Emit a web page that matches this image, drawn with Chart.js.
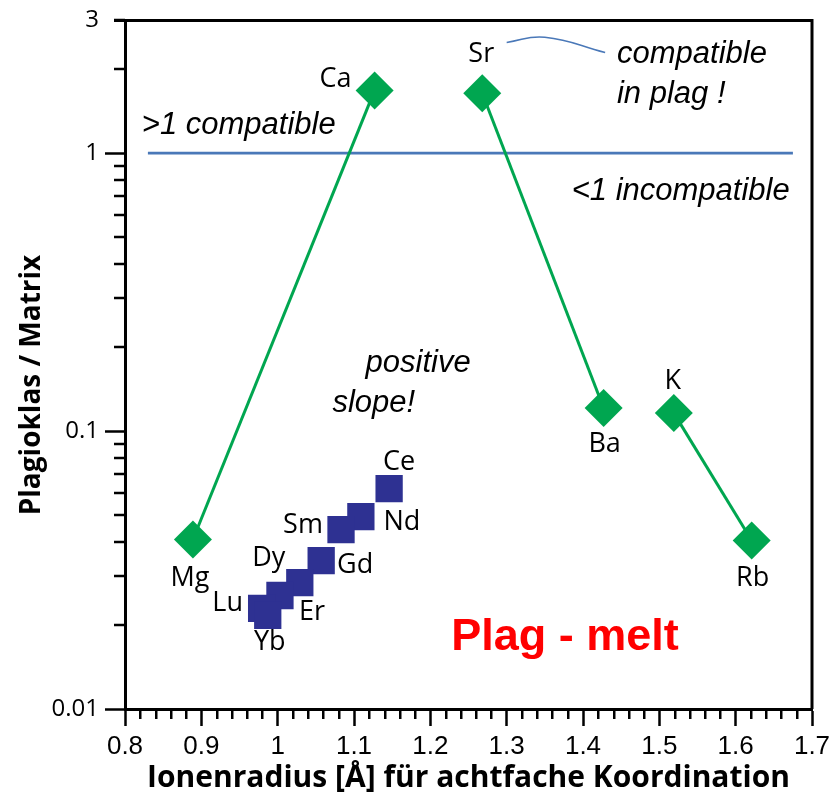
<!DOCTYPE html>
<html>
<head>
<meta charset="utf-8">
<script src="https://cdn.jsdelivr.net/npm/chart.js@4/dist/chart.umd.min.js"></script>
<style>
  html, body { margin: 0; padding: 0; background: #fff; }
  #wrap { width: 837px; height: 796px; }
</style>
</head>
<body>
<div id="wrap"><canvas id="plagChart" width="837" height="796"></canvas></div>
<script>
// Plagioclase / melt partition coefficients against ionic radius (8-fold coordination)
const majorElements = ['Mg', 'Ca', 'Sr', 'Ba', 'K', 'Rb'];
const majorRadius = [0.889, 1.127, 1.268, 1.427, 1.519, 1.621];
const majorD = [0.0407, 1.68, 1.64, 0.121, 0.116, 0.0404];
const majorLinks = [[0, 1], [2, 3], [4, 5]];

const reeElements = ['Ce', 'Nd', 'Sm', 'Gd', 'Dy', 'Er', 'Lu', 'Yb'];
const reeRadius = [1.146, 1.109, 1.083, 1.057, 1.029, 1.003, 0.979, 0.987];
const reeD = [0.0620, 0.0492, 0.0442, 0.0342, 0.0285, 0.0256, 0.0230, 0.0217];

const xTicks = [0.8, 0.9, 1.0, 1.1, 1.2, 1.3, 1.4, 1.5, 1.6, 1.7];
const yTicks = [0.01, 0.1, 1, 3];
const yTickLabels = ['0.01', '0.1', '1', '3'];
const yMinorTicks = [0.02, 0.03, 0.04, 0.05, 0.06, 0.07, 0.08, 0.09,
                     0.2, 0.3, 0.4, 0.5, 0.6, 0.7, 0.8, 0.9, 2, 3];

// D = 1 divider and the little leader from Sr to the note
const unityX = [0.83, 1.675];
const unityY = [1, 1];
const leaderX = [1.300, 1.350, 1.429];
const leaderY = [2.50, 2.61, 2.30];

// label offsets in pixels from each marker
const majorLabelOffset = [[-3, 39], [-39, -11], [-1, -39], [1, 36], [-1, -32], [1, 38]];
const reeLabelOffset = [[10, -26], [41, 6], [-38, -4], [34, 5], [-31, -24], [32, 17], [-34, -5], [2, 27]];

// free text notes, placed in data coordinates
const notes = [
  { text: '>1 compatible', x: 0.949, y: 1.26, align: 'center' },
  { text: '<1 incompatible', x: 1.528, y: 0.725, align: 'center' },
  { text: 'compatible', x: 1.4445, y: 2.265, align: 'left' },
  { text: 'in plag !', x: 1.4445, y: 1.629, align: 'left' },
  { text: 'positive', x: 1.184, y: 0.1754, align: 'center' },
  { text: 'slope!', x: 1.126, y: 0.126, align: 'center' }
];
const title = { text: 'Plag - melt', x: 1.3764, y: 0.01812 };

const GREEN = '#00a650';
const NAVY = '#2e3192';
const LINE_BLUE = '#4a78b8';
const SANS = '"Open Sans", Lato, sans-serif';

const toPoints = (xs, ys) => xs.map((x, i) => ({ x: x, y: ys[i] }));

const datasets = [];
majorLinks.forEach(([a, b]) => {
  datasets.push({
    data: [{ x: majorRadius[a], y: majorD[a] }, { x: majorRadius[b], y: majorD[b] }],
    showLine: true,
    borderColor: GREEN,
    borderWidth: 3,
    backgroundColor: GREEN,
    pointStyle: 'rectRot',
    pointRadius: 19,
    pointBorderWidth: 0,
    pointHoverRadius: 19
  });
});
datasets.push({
  data: toPoints(reeRadius, reeD),
  showLine: false,
  backgroundColor: NAVY,
  pointStyle: 'rect',
  pointRadius: 19.3,
  pointBorderWidth: 0,
  pointHoverRadius: 19.3
});
datasets.push({
  data: toPoints(unityX, unityY),
  showLine: true,
  borderColor: LINE_BLUE,
  borderWidth: 2.7,
  pointRadius: 0
});
datasets.push({
  data: toPoints(leaderX, leaderY),
  showLine: true,
  borderColor: LINE_BLUE,
  borderWidth: 1.5,
  tension: 0.45,
  pointRadius: 0
});

const decorations = {
  id: 'decorations',
  afterDraw(chart) {
    const { ctx, chartArea: a } = chart;
    const xs = chart.scales.x, ys = chart.scales.y;
    ctx.save();

    // closing frame on top and right
    ctx.strokeStyle = '#000';
    ctx.lineWidth = 3;
    ctx.beginPath();
    ctx.moveTo(a.left - 11, a.top);
    ctx.lineTo(a.right, a.top);
    ctx.lineTo(a.right, a.bottom);
    ctx.stroke();

    // minor ticks
    ctx.lineWidth = 2.5;
    ctx.beginPath();
    for (let i = 1; i < 45; i++) {
      if (i % 5 === 0) continue;
      const px = Math.round(xs.getPixelForValue(0.8 + i * 0.02)) + 0.25;
      ctx.moveTo(px, a.bottom);
      ctx.lineTo(px, a.bottom + 10);
    }
    yMinorTicks.forEach(v => {
      const py = Math.round(ys.getPixelForValue(v));
      ctx.moveTo(a.left, py);
      ctx.lineTo(a.left - 11, py);
    });
    ctx.stroke();

    // element labels
    ctx.fillStyle = '#000';
    ctx.font = '27px ' + SANS;
    ctx.textAlign = 'center';
    ctx.textBaseline = 'middle';
    majorElements.forEach((el, i) => {
      const px = xs.getPixelForValue(majorRadius[i]);
      const py = ys.getPixelForValue(majorD[i]);
      ctx.fillText(el, px + majorLabelOffset[i][0], py + majorLabelOffset[i][1]);
    });
    reeElements.forEach((el, i) => {
      const px = xs.getPixelForValue(reeRadius[i]);
      const py = ys.getPixelForValue(reeD[i]);
      ctx.fillText(el, px + reeLabelOffset[i][0], py + reeLabelOffset[i][1]);
    });

    // notes
    ctx.font = 'italic 31px "Liberation Sans", Arial, sans-serif';
    notes.forEach(n => {
      ctx.textAlign = n.align;
      ctx.fillText(n.text, xs.getPixelForValue(n.x), ys.getPixelForValue(n.y));
    });

    ctx.font = 'bold 45px "Liberation Sans", Arial, sans-serif';
    ctx.fillStyle = '#ff0000';
    ctx.textAlign = 'center';
    ctx.fillText(title.text, xs.getPixelForValue(title.x), ys.getPixelForValue(title.y));

    // y axis title
    ctx.fillStyle = '#000';
    ctx.font = 'bold 28px ' + SANS;
    ctx.translate(32, 385);
    ctx.rotate(-Math.PI / 2);
    ctx.fillText('Plagioklas / Matrix', 0, 0);

    ctx.restore();
  }
};

new Chart(document.getElementById('plagChart'), {
  type: 'scatter',
  data: { datasets: datasets },
  options: {
    responsive: false,
    animation: false,
    layout: { padding: { top: 18, right: 25, left: 0, bottom: 0 } },
    plugins: {
      legend: { display: false },
      tooltip: { enabled: false }
    },
    scales: {
      x: {
        type: 'linear',
        min: 0.8,
        max: 1.7,
        afterBuildTicks: scale => { scale.ticks = xTicks.map(v => ({ value: v })); },
        afterFit: scale => { scale.height = 87; },
        ticks: {
          color: '#000',
          padding: 5,
          maxRotation: 0,
          autoSkip: false,
          font: { family: '"Liberation Sans Narrow", "Liberation Sans", sans-serif', size: 26 },
          callback: v => String(Number(v.toFixed(1)))
        },
        grid: {
          display: true,
          drawOnChartArea: false,
          drawTicks: true,
          tickLength: 17,
          tickWidth: 2.5,
          tickColor: '#000'
        },
        border: { display: true, color: '#000', width: 3 },
        title: {
          display: true,
          text: 'Ionenradius [Å] für achtfache Koordination',
          color: '#000',
          font: { family: SANS, size: 30, weight: 'bold' },
          padding: { top: 0, bottom: 0 }
        }
      },
      y: {
        type: 'logarithmic',
        min: 0.01,
        max: 3,
        afterBuildTicks: scale => { scale.ticks = yTicks.map(v => ({ value: v })); },
        afterFit: scale => { scale.width = 125; },
        ticks: {
          color: '#000',
          padding: 6,
          autoSkip: false,
          font: { family: SANS, size: 24 },
          callback: (v, i) => yTickLabels[i]
        },
        grid: {
          display: true,
          drawOnChartArea: false,
          drawTicks: true,
          tickLength: 20,
          tickWidth: 2.5,
          tickColor: ctx => (ctx.tick && ctx.tick.value === 3 ? 'rgba(0,0,0,0)' : '#000')
        },
        border: { display: true, color: '#000', width: 3 }
      }
    }
  },
  plugins: [decorations]
});
</script>
</body>
</html>
